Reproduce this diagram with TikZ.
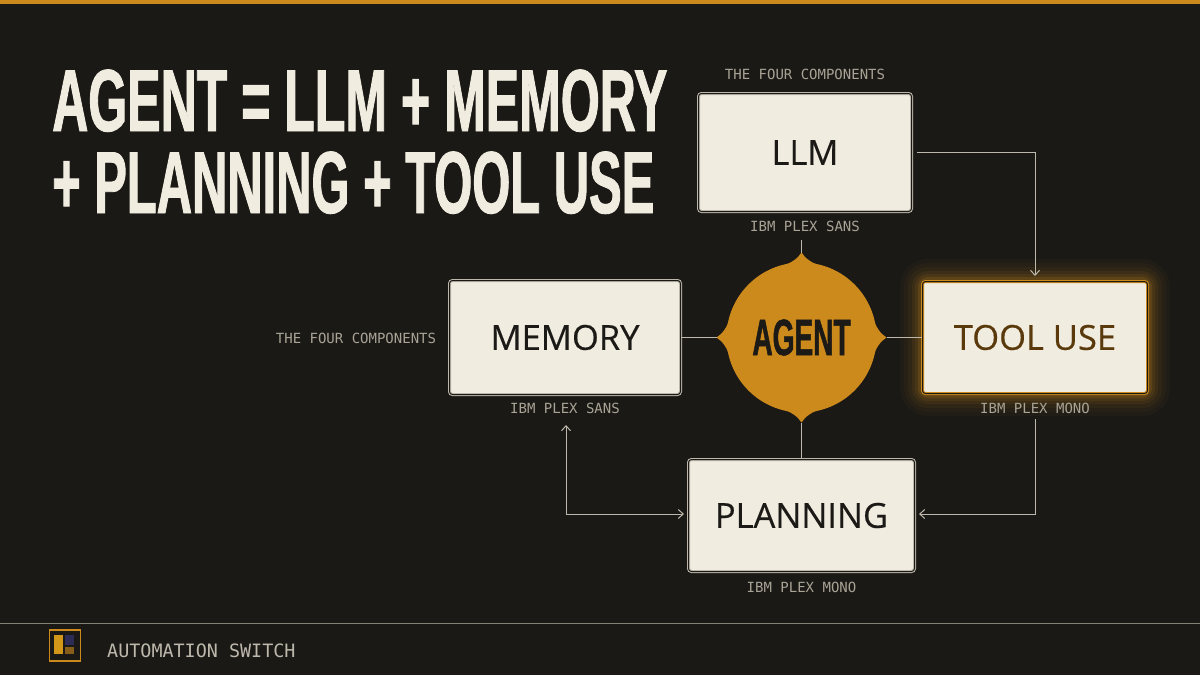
\documentclass[tikz,border=0pt]{standalone}
\usepackage{fontspec}
\usetikzlibrary{arrows.meta}
\setmainfont[FakeBold=.4]{Open Sans}
\setmonofont{DejaVu Sans Mono}
\newfontfamily\titlefont[FakeStretch=0.5685,FakeBold=1]{Liberation Sans}
\newfontfamily\titlefontb[FakeStretch=0.5555,FakeBold=1]{Liberation Sans}
\newfontfamily\agentfont[FakeStretch=0.55,FakeBold=1]{Liberation Sans}
\definecolor{bgdark}{HTML}{1B1916}
\definecolor{amber}{HTML}{CD8A1C}
\definecolor{cream}{HTML}{F1ECE0}
\definecolor{wire}{HTML}{BDB8AB}
\definecolor{caption}{HTML}{A8A395}
\definecolor{inkdark}{HTML}{1C1A16}
\definecolor{inkbrown}{HTML}{5A3A0C}
\tikzset{
	comp/.style={draw=wire, double=bgdark, double distance=1pt, line width=1pt, fill=cream, rounded corners=3pt, text=inkdark, font=\fontsize{34.5}{34.5}\selectfont},
	captxt/.style={text=caption, font=\ttfamily\fontsize{14}{14}\selectfont},
	headline/.style={anchor=base west, text=cream, inner sep=0pt},
	wireline/.style={wire, line width=1pt},
	arrowline/.style={wire, line width=1pt, -{Straight Barb[length=5pt,width=9pt]}}
}
\begin{document}
\begin{tikzpicture}[x=1pt,y=-1pt]
	\useasboundingbox (0,0) rectangle (1200,675);
	\fill[bgdark] (0,0) rectangle (1200,675);
	\fill[amber] (0,0) rectangle (1200,4);

	\node[headline, font=\titlefont\bfseries\fontsize{88}{82}\selectfont] (title1) at (52,131) {AGENT = LLM + MEMORY};
	\node[headline, font=\titlefontb\bfseries\fontsize{88}{82}\selectfont] (title2) at (52,213) {+ PLANNING + TOOL USE};

	\foreach \g/\o in {22/.03,18/.04,14/.06,10/.08,7/.1,4/.16}
		\draw[amber, line width=\g*2pt, opacity=\o, rounded corners=6pt] (922,281) rectangle (1148,394);

	\node[comp, minimum width=213pt, minimum height=118pt] (L) at (805,152.5) {LLM};
	\node[comp, minimum width=231pt, minimum height=114pt] (M) at (565,337.5) {MEMORY};
	\node[comp, draw=amber, text=inkbrown, minimum width=225pt, minimum height=112pt] (T) at (1035,337.5) {TOOL USE};
	\node[comp, minimum width=226pt, minimum height=112pt] (P) at (801.5,515.5) {PLANNING};
	\node[circle, fill=amber, minimum size=150pt, outer sep=10pt, text=inkdark, font=\agentfont\bfseries\fontsize{51}{51}\selectfont] (A) at (801.5,337.5) {AGENT};
	\foreach \r in {0,90,180,270}
		\fill[amber, rotate around={\r:(A.center)}] (781.5,266) .. controls (792,263) and (798,258) .. (801.5,252.5) .. controls (805,258) and (811,263) .. (821.5,266) -- cycle;

	\node[captxt] (c1) at (805,74) {THE FOUR COMPONENTS};
	\node[captxt] (c2) at (356,338) {THE FOUR COMPONENTS};
	\node[captxt] (c3) at (805,226) {IBM PLEX SANS};
	\node[captxt] (c4) at (565,408) {IBM PLEX SANS};
	\node[captxt] (c5) at (1035,408) {IBM PLEX MONO};
	\node[captxt] (c6) at (801.5,587) {IBM PLEX MONO};

	\draw[wireline] (M.east) -- (A.west);
	\draw[wireline] (A.east) -- (T.west);
	\draw[wireline] (A.south) -- (P.north);
	\draw[wireline, shorten >=28pt] (A.north) -- (A.north |- L.south);

	\draw[arrowline, shorten <=5pt, shorten >=5pt] (L.east) -| (T.north);
	\draw[arrowline, shorten <=25pt, shorten >=4pt] (T.south) |- ([yshift=1.5pt]P.east);
	\draw[wireline, {Straight Barb[length=5pt,width=9pt]}-{Straight Barb[length=5pt,width=9pt]}, shorten <=30pt, shorten >=4pt] ([xshift=1pt]M.south) |- ([yshift=1.5pt]P.west);

	\coordinate (ruleL) at (0,623);
	\coordinate (ruleR) at (1200,623);
	\draw[caption!75!bgdark, line width=1pt] (ruleL) -- (ruleR);
	\node[draw=amber, line width=1.2pt, minimum size=31pt, inner sep=0pt] (logo) at (65,645.5) {};
	\fill[amber!90!yellow] (54,635) rectangle (63,654);
	\fill[blue!20!bgdark!90!white] (65,635) rectangle (74,645);
	\fill[amber!60!bgdark] (65,647) rectangle (74,654);
	\node[anchor=west, inner sep=0pt, text=wire, font=\ttfamily\fontsize{18.4}{18.4}\selectfont] (brand) at (107,650.5) {AUTOMATION SWITCH};
\end{tikzpicture}
\end{document}
